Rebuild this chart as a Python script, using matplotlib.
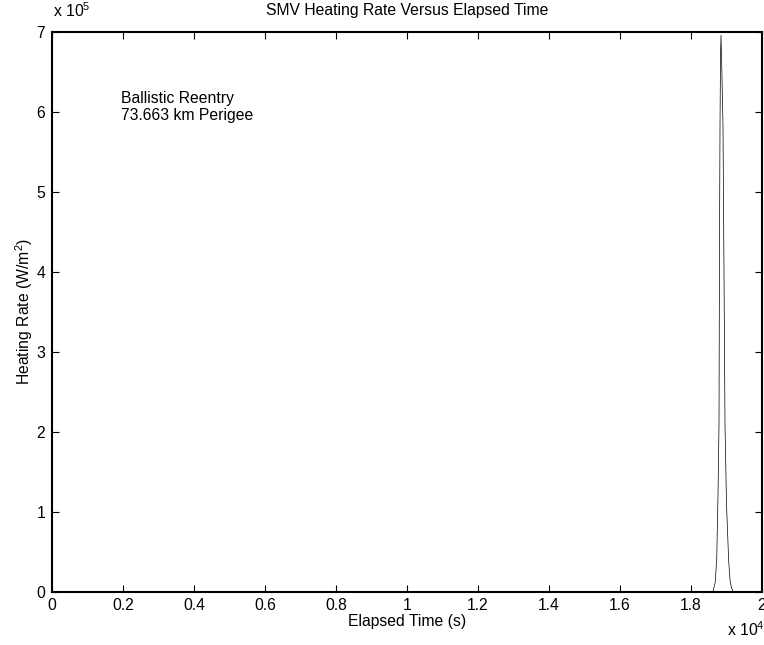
import matplotlib
matplotlib.use("Agg")
import matplotlib.pyplot as plt
from matplotlib.ticker import FuncFormatter

# elapsed time (s) and heating rate (W/m^2)
elapsed_time = [0, 18000, 18500, 18620, 18680, 18724, 18760, 18789, 18800, 18817,
                18832, 18845, 18870, 18901, 18930, 18958, 19000, 19060, 19099,
                19140, 19183, 19300, 20000]
heating_rate = [0, 0, 0, 500, 12000, 40000, 120000, 208750, 396250, 583750,
                670000, 696000, 650000, 583750, 396250, 208750, 110000, 40000,
                15000, 5000, 1000, 0, 0]

x_ticks = [0, 2000, 4000, 6000, 8000, 10000, 12000, 14000, 16000, 18000, 20000]
y_ticks = [0, 1e5, 2e5, 3e5, 4e5, 5e5, 6e5, 7e5]

plt.rcParams['font.family'] = ['Liberation Sans', 'DejaVu Sans']
plt.rcParams['font.size'] = 11.3
plt.rcParams['mathtext.fontset'] = 'custom'
plt.rcParams['mathtext.rm'] = 'Liberation Sans'

fig = plt.figure(figsize=(7.64, 6.45), dpi=100)
ax = fig.add_axes([52 / 764, 53 / 645, 710 / 764, 560 / 645])

ax.plot(elapsed_time, heating_rate, color='black', linewidth=0.5)

ax.set_xlim(0, 20000)
ax.set_ylim(0, 7e5)
ax.set_xticks(x_ticks)
ax.set_yticks(y_ticks)
ax.xaxis.set_major_formatter(FuncFormatter(lambda v, p: '%g' % (v / 1e4)))
ax.yaxis.set_major_formatter(FuncFormatter(lambda v, p: '%g' % (v / 1e5)))
ax.tick_params(direction='in', top=True, right=True, length=5, width=0.8,
               labelsize=11.3)
ax.tick_params(axis='x', pad=4)
ax.tick_params(axis='y', pad=5)
for s in ax.spines.values():
    s.set_linewidth(1.5)

ax.set_title('SMV Heating Rate Versus Elapsed Time', fontsize=11.3, pad=12)
ax.set_xlabel('Elapsed Time (s)', fontsize=11.3, labelpad=1)
ax.set_ylabel('Heating Rate (W/m$^2$)', fontsize=11.3, labelpad=1)

# multipliers like the original
fig.text(53 / 764, 1 - 11 / 645, 'x 10$^5$', fontsize=11.3, ha='left', va='center')
fig.text(727 / 764, 1 - 630 / 645, 'x 10$^4$', fontsize=11.3, ha='left', va='center')

ax.text(1950, 606000, 'Ballistic Reentry\n73.663 km Perigee', fontsize=11.3,
        ha='left', va='center', linespacing=1.2)

fig.savefig('out.png', dpi=100)
